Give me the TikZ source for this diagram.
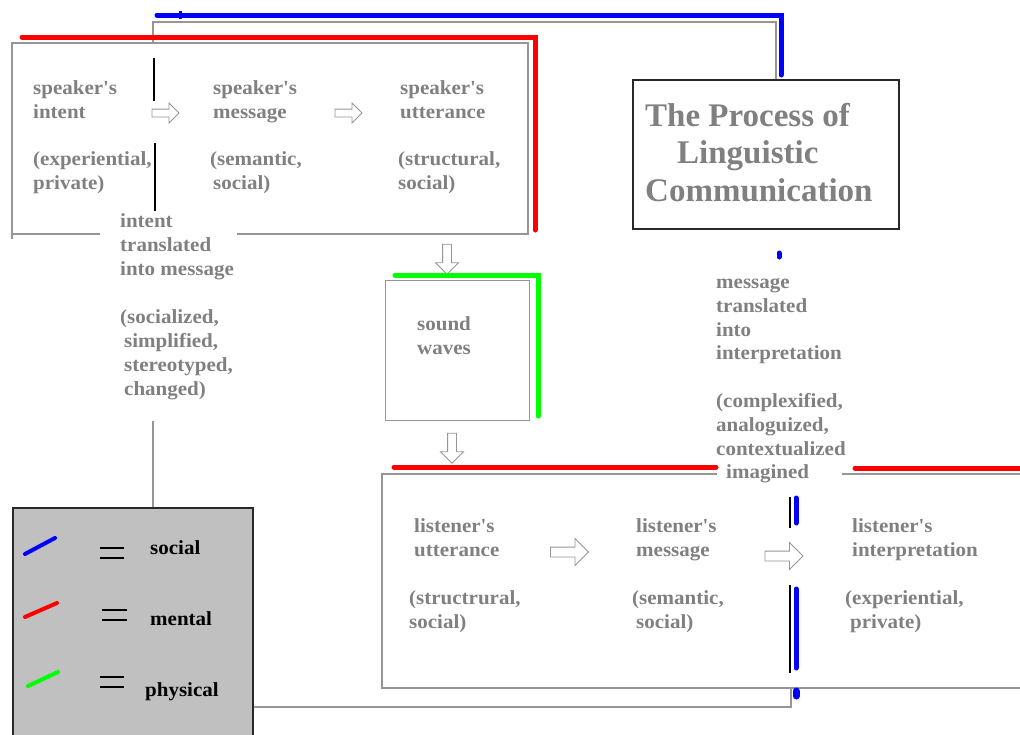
\documentclass[tikz,border=0pt]{standalone}
\usepackage{fontspec}
\setmainfont{Liberation Serif}[FakeStretch=1.05]
\newfontfamily\headfont{Liberation Serif}
\usetikzlibrary{shapes.arrows}

\definecolor{inkgray}{RGB}{128,128,128}
\definecolor{rulegray}{RGB}{150,150,150}
\definecolor{framedark}{RGB}{40,40,40}
\definecolor{legendfill}{RGB}{192,192,192}
\definecolor{socialblue}{RGB}{0,0,255}
\definecolor{mentalred}{RGB}{255,0,0}
\definecolor{physicalgreen}{RGB}{0,255,0}

% straight apostrophe
\newcommand{\apos}{\textquotesingle}

\tikzset{
  frame/.style={draw=rulegray, line width=1.3pt},
  darkframe/.style={draw=framedark, line width=1.5pt},
  divider/.style={draw=black, line width=1.2pt},
  txt/.style={text=inkgray, font=\bfseries\fontsize{20}{24}\selectfont,
    align=left, anchor=north west, inner sep=0pt},
  txtb/.style={txt, font=\bfseries\fontsize{20}{23.8}\selectfont},
  legendtxt/.style={text=black, font=\bfseries\fontsize{20}{24}\selectfont,
    anchor=base west, inner sep=0pt},
  headtxt/.style={text=inkgray, font=\headfont\bfseries\fontsize{33}{37.5}\selectfont,
    align=left, anchor=north west, inner sep=0pt},
  socialline/.style={draw=socialblue, line width=5pt, line cap=round},
  mentalline/.style={draw=mentalred, line width=5pt, line cap=round},
  physicalline/.style={draw=physicalgreen, line width=5pt, line cap=round},
  equalbar/.style={draw=black, line width=1.2pt},
  smallarrow/.style={single arrow, draw=rulegray, fill=white, line width=0.9pt,
    inner sep=3.5pt, single arrow head extend=6pt, minimum height=27pt},
  bigarrow/.style={single arrow, draw=rulegray, fill=white, line width=0.9pt,
    inner sep=4.5pt, single arrow head extend=8.5pt, minimum height=38pt},
  downarrow/.style={single arrow, shape border rotate=270, draw=rulegray,
    fill=white, line width=0.9pt, inner sep=4pt, single arrow head extend=7pt,
    minimum height=30pt},
}

\begin{document}
\begin{tikzpicture}[x=1pt, y=-1pt]
\useasboundingbox (0,0) rectangle (1020,734);
\clip (0,0) rectangle (1020,734);

% ---------- boxes ----------
% speaker box (bottom edge interrupted by the "intent translated" note)
\coordinate (spkNW) at (12,43);
\coordinate (spkSE) at (528,234);
\draw[frame] (100,234) -- (spkNW |- spkSE) -- (spkNW) -- (spkNW -| spkSE) -- (spkSE) -- (237,234);
\draw[frame] (spkNW |- spkSE) -- ++(0,5);

% title box
\node[darkframe, anchor=north west, minimum width=266pt, minimum height=149pt,
      inner sep=0pt] (titlebox) at (632,79) {};

% sound waves box
\node[frame, anchor=north west, minimum width=144pt, minimum height=140pt,
      inner sep=0pt] (soundbox) at (385,280) {};

% listener box (top edge interrupted by "imagined")
\coordinate (lisNW) at (382,474);
\coordinate (lisSE) at (1030,688);
\draw[frame] (717,474) -- (lisNW) -- (lisNW |- lisSE) -- (lisSE);
\draw[frame] (842,474) -- (1030,474);

% legend box
\node[draw=framedark, line width=1.5pt, fill=legendfill, anchor=north west,
      minimum width=240pt, minimum height=240pt, inner sep=0pt] (legend) at (12,507) {};

% ---------- texts ----------
\node[txt] (sintent)   at (33,80)  {speaker\apos s\\intent};
\node[txt] (sintentq)  at (33,151) {(experiential,\\private)};
\node[txt] (smessage)  at (213,80) {speaker\apos s\\message};
\node[txt] (smessageq) at (210,151) {(semantic,\\\hspace*{3pt}social)};
\node[txt] (sutter)    at (400,80) {speaker\apos s\\utterance};
\node[txt] (sutterq)   at (398,151) {(structural,\\social)};

\node[txt] (intentmsg) at (120,213)
  {intent\\translated\\into message\\[24pt](socialized,\\\hspace*{4pt}simplified,\\\hspace*{4pt}stereotyped,\\\hspace*{4pt}changed)};

\node[txt] (sound) at (417,316) {sound\\waves};

\node[headtxt] (title) at (645,103)
  {The Process of\\\hspace*{32pt}Linguistic\\Communication};

\node[txtb] (msginterp) at (716,278)
  {message\\translated\\into\\interpretation\\[23.8pt](complexified,\\analoguized,\\contextualized\\\hspace*{10pt}imagined};

\node[txt] (lutter)    at (414,518) {listener\apos s\\utterance};
\node[txt] (lutterq)   at (409,590) {(structrural,\\social)};
\node[txt] (lmessage)  at (636,518) {listener\apos s\\message};
\node[txt] (lmessageq) at (632,590) {(semantic,\\\hspace*{4pt}social)};
\node[txt] (linterp)   at (852,518) {listener\apos s\\interpretation};
\node[txt] (linterpq)  at (845,590) {(experiential,\\\hspace*{5pt}private)};

% ---------- block arrows ----------
\node[smallarrow] (arr1) at (163.5,113) {};
\node[smallarrow] (arr2) at (346.5,113) {};
\node[downarrow]  (arr3) at (447,257) {};
\node[downarrow]  (arr4) at (452,446) {};
\node[bigarrow]   (arr5) at (567,552) {};
\node[bigarrow]   (arr6) at (781.5,556) {};

% ---------- dividers ----------
\draw[divider] (154,58) -- (154,101);
\draw[divider] (155,143) -- (155,211);
\draw[divider] (790,497) -- (790,528);
\draw[divider] (790,585) -- (790,673);

% ---------- gray connectors ----------
\coordinate (tracktop) at (153,22);
\draw[frame] (tracktop |- spkNW) -- (tracktop) -- (776,22) -- (776,22 |- titlebox.north);
\coordinate (intentfoot) at (153,421);
\draw[frame] (intentfoot) -- (intentfoot |- legend.north);
\coordinate (legendtap) at (legend.east |- 0,707);
\draw[frame] (legendtap) -- (791,707) -- (791,688);

% ---------- coloured tracks ----------
\draw[socialline] (157,15) -- (781,15) -- (781,75);
\draw[socialblue, line width=3pt] (180,11) -- (180,19);
\draw[socialline] (779,253) -- (779,257);
\draw[socialline] (796,498) -- (796,523);
\draw[socialline] (796,589) -- (796,668);
\draw[socialline, line width=7pt] (796,691) -- (796,696);

\draw[mentalline] (22,37) -- (535,37) -- (535,230);
\draw[mentalline] (394,467) -- (716,467);
\draw[mentalline] (855,468) -- (1030,468);

\draw[physicalline] (395,275) -- (538,275) -- (538,416);

% ---------- legend ----------
\draw[socialline, line width=4pt] (25,554) -- (55,538);
\draw[equalbar] (100,548) -- (124,548) (100,558) -- (124,558);
\node[legendtxt] (lsocial) at (150,554) {social};

\draw[mentalline, line width=4pt] (25,617) -- (57,603);
\draw[equalbar] (102,610) -- (127,610) (102,620) -- (127,620);
\node[legendtxt] (lmental) at (150,625) {mental};

\draw[physicalline, line width=4pt] (28,686) -- (58,672);
\draw[equalbar] (100,677) -- (124,677) (100,687) -- (124,687);
\node[legendtxt] (lphysical) at (145,696) {physical};
\end{tikzpicture}
\end{document}
